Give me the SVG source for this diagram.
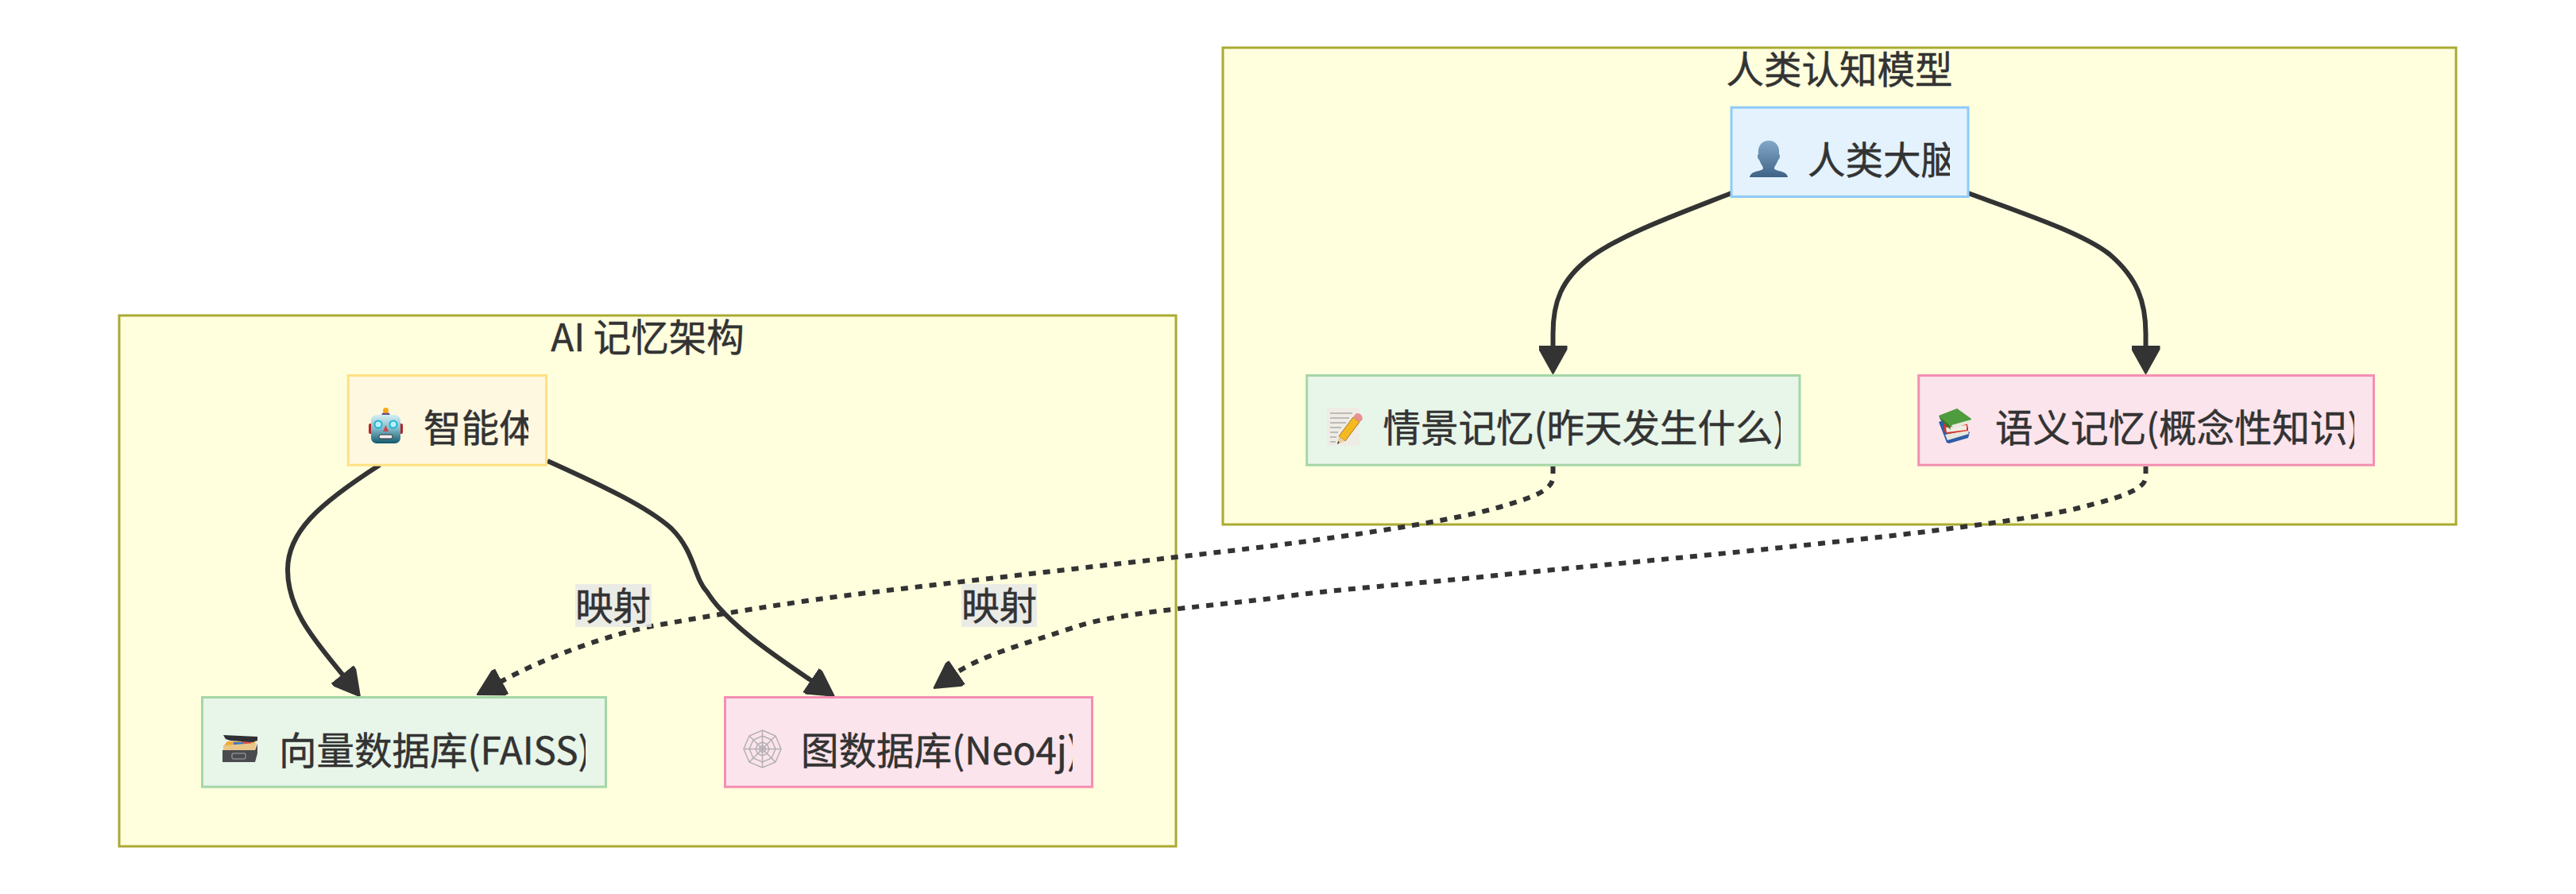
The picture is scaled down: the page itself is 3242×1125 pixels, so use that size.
<svg xmlns="http://www.w3.org/2000/svg" width="3242" height="1125" viewBox="0 0 3242 1125">
<style>
text{font-family:"Noto Sans CJK SC","Noto Sans",sans-serif;font-size:47.500px;fill:#333;stroke:#333;stroke-width:.5}
.cluster{fill:#ffffde;stroke:#aaaa33;stroke-width:3}
.title{text-anchor:middle}
.edge{fill:none;stroke:#333;stroke-width:6}
.dot{stroke-dasharray:9 9}
.blue{fill:#e3f2fd;stroke:#90caf9;stroke-width:3}
.green{fill:#e8f5e9;stroke:#a5d6a7;stroke-width:3}
.pink{fill:#fce4ec;stroke:#f48fb1;stroke-width:3}
.amber{fill:#fff8e1;stroke:#ffe082;stroke-width:3}
.lbl{fill:#e8e8e8;fill-opacity:.85}
</style>
<defs>
<marker id="arrow" viewBox="0 0 10 10" refX="0.5" refY="5" markerWidth="36" markerHeight="36" markerUnits="userSpaceOnUse" orient="auto">
<path d="M0,0 L1.400,0 L10,4.800 L10,5.200 L1.400,10 L0,10 z" fill="#333"/>
</marker>
<linearGradient id="gPerson" x1="0" y1="0" x2="0" y2="1"><stop offset="0" stop-color="#82a8c8"/><stop offset="1" stop-color="#3f6386"/></linearGradient>
<linearGradient id="gRobot" x1="0" y1="0" x2="0" y2="1"><stop offset="0" stop-color="#d4f0f5"/><stop offset=".5" stop-color="#7fb8c6"/><stop offset="1" stop-color="#13586e"/></linearGradient>
<clipPath id="c1"><rect x="2190" y="160" width="264" height="80"/></clipPath>
<clipPath id="c2"><rect x="1660" y="495" width="581" height="80"/></clipPath>
<clipPath id="c3"><rect x="2430" y="495" width="533" height="80"/></clipPath>
<clipPath id="c4"><rect x="450" y="495" width="215" height="80"/></clipPath>
<clipPath id="c5"><rect x="270" y="900" width="467" height="80"/></clipPath>
<clipPath id="c6"><rect x="925" y="900" width="425" height="80"/></clipPath>
</defs>

<g id="clusters">
<g id="cluster-human">
<rect class="cluster" x="1539" y="60" width="1552" height="600"/>
<text class="title" x="2315" y="105">人类认知模型</text>
</g>
<g id="cluster-ai">
<rect class="cluster" x="150" y="397" width="1330" height="668"/>
<text class="title" x="815" y="442">AI 记忆架构</text>
</g>
</g>

<g id="connectors">
<path class="edge" marker-end="url(#arrow)" d="M2179,243 C2110,270 2040,295 2000,325 C1965,352 1954.5,380 1954.5,420 L1954.5,436.500"/>
<path class="edge" marker-end="url(#arrow)" d="M2477,243 C2550,270 2620,293 2655,320 C2690,350 2700.5,380 2700.5,420 L2700.5,436.500"/>
<path class="edge" marker-end="url(#arrow)" d="M478,585 C400,635 362,670 362,717 C362,770 400,810 432,850"/>
<path class="edge" marker-end="url(#arrow)" d="M689,580 C760,612 815,638 845,665 C875,695 873,727 890,745 C915,785 975,825 1022,857"/>
<path class="edge dot" marker-end="url(#arrow)" d="M1954.5,587 L1954.5,600 C1954.5,618 1925,627 1888,638 C1850,649 1770,665 1600,687 C1450,705 1250,727 1100,745 C1000,757 910,772 820,788 C770,798 690,825 630,858"/>
<path class="edge dot" marker-end="url(#arrow)" d="M2700.5,587 L2700.5,600 C2700.5,618 2660,628 2613,640 C2580,648 2500,660 2399,672 C2200,695 2000,712 1884,724 C1780,735 1680,741 1600,753 C1500,765 1400,772 1350,790 C1290,810 1235,825 1203,847"/>
</g>

<g id="edge-labels">
<g id="label-1"><rect class="lbl" x="724" y="735" width="96" height="54"/><text x="724" y="780">映射</text></g>
<g id="label-2"><rect class="lbl" x="1210" y="735" width="95" height="54"/><text x="1210" y="780">映射</text></g>
</g>

<g id="node-brain">
<rect class="blue" x="2179" y="135.200" width="298" height="112.300"/>
<g>
<path fill="url(#gPerson)" d="M2226,177 C2236,177 2240,185 2239,194 C2241,195 2240,200 2238,201 C2236,207 2233,209 2233,212 C2233,215 2245,215 2248,219 C2249,220 2250,222 2250,223 L2202,223 C2202,222 2203,220 2204,219 C2207,215 2219,215 2219,212 C2219,209 2216,207 2214,201 C2212,200 2211,195 2213,194 C2212,185 2216,177 2226,177 z"/>
</g>
<text x="2275" y="219" clip-path="url(#c1)">人类大脑</text>
</g>

<g id="node-episodic">
<rect class="green" x="1644.700" y="472.500" width="620.300" height="112.700"/>
<g>
<rect x="1670" y="513" width="41" height="48" fill="#efece6"/>
<path fill="none" stroke="#8a8a8a" stroke-width="1" d="M1674,520 h28 M1674,526 h24 M1674,532 h20 M1674,538 h14 M1674,544 h10 M1674,550 h8 M1674,556 h7"/>
<path fill="#f5b922" stroke="#a8761a" stroke-width="1" d="M1685,549 L1703,525 L1711,531 L1693,555 z"/>
<path fill="#e88f92" d="M1703,525 L1706,521 C1708,519 1711,520 1713,522 C1715,524 1715,527 1714,529 L1711,531 z"/>
<path fill="#e9cf9c" d="M1685,549 L1693,555 L1683,559 z"/>
<path fill="#333" d="M1684,555 L1686,557 L1683,559 z"/>
</g>
<text x="1740.500" y="556" clip-path="url(#c2)">情景记忆(昨天发生什么)</text>
</g>

<g id="node-semantic">
<rect class="pink" x="2414.700" y="472.500" width="572.800" height="112.700"/>
<g>
<path fill="#2f5ea8" d="M2440,531 L2447,528 L2479,544 L2477,551 L2453,558 L2450,557 z"/>
<path fill="#e9e7dd" d="M2448,547 L2476,541 L2478,546 L2451,554 z"/>
<path fill="#d9352a" d="M2446,529 L2452,525 L2475,529 L2477,539 L2477,542 L2451,546 L2447,543 z"/>
<path fill="#efece2" d="M2449,538 L2475,535 L2475,541 L2450,544 z"/>
<path fill="#4f9c3e" d="M2440,523 L2463,514 L2481,527 L2481,531 L2458,538 L2454,536 z"/>
<path fill="#2f7a2a" d="M2440,523 L2454,536 L2455,541 L2442,528 z"/>
<path fill="#eae8de" d="M2456,535 L2481,528 L2481,532 L2458,539 z"/>
</g>
<text x="2511" y="556" clip-path="url(#c3)">语义记忆(概念性知识)</text>
</g>

<g id="node-agent">
<rect class="amber" x="438.200" y="472.500" width="249.300" height="112.700"/>
<g>
<rect x="464" y="533" width="6" height="13" rx="2" fill="#b3252a"/>
<rect x="501" y="533" width="6" height="13" rx="2" fill="#b3252a"/>
<path d="M480,523 C480,517 491,517 491,523 z" fill="#6b4d96"/>
<circle cx="485.500" cy="516.500" r="3.500" fill="#f7a713"/>
<rect x="467" y="522" width="37" height="36" rx="7" fill="url(#gRobot)"/>
<circle cx="476" cy="534" r="4.500" fill="#bdf0fa" stroke="#1fb3d8" stroke-width="2"/>
<circle cx="495" cy="534" r="4.500" fill="#bdf0fa" stroke="#1fb3d8" stroke-width="2"/>
<path d="M485.500,535 L489,543 L482,543 z" fill="#c9474a"/>
<rect x="477" y="547" width="17" height="5" rx="2" fill="#f0f0f0" stroke="#333" stroke-width="1"/>
</g>
<text x="533" y="556" clip-path="url(#c4)">智能体</text>
</g>

<g id="node-vector">
<rect class="green" x="254.500" y="877.500" width="508" height="112.700"/>
<g>
<path fill="#f2a93b" d="M282,938 L286,933 L320,933 L322,938 z"/>
<path fill="#d9534a" d="M304,932 L316,932 L316,937 L304,937 z"/>
<path fill="#3a79c4" d="M294,934 L306,934 L306,938 L294,938 z"/>
<path fill="#e9c689" d="M281,938 L323,935 L320,945 L281,945 z"/>
<path fill="#2f3033" d="M281,925 L324,927 L324,932 L318,934 L290,932 L284,930 z"/>
<path fill="#4a4b4f" d="M280,944 L321,944 L324,936 L324,948 L321,959 L280,959 z"/>
<rect x="292" y="948" width="17" height="7" rx="2" fill="none" stroke="#8b8b8b" stroke-width="1.500"/>
</g>
<text x="351" y="962" clip-path="url(#c5)">向量数据库(FAISS)</text>
</g>

<g id="node-graph">
<rect class="pink" x="912.500" y="877.500" width="462" height="112.700"/>
<g fill="none" stroke="#b3b0b3" stroke-width="1.500">
<path d="M936,942.500 H983 M959.500,919 V966 M943,926 L976,959 M976,926 L943,959"/>
<path d="M959.500,919 L976,926 L983,942.500 L976,959 L959.500,966 L943,959 L936,942.500 L943,926 z"/>
<path d="M959.500,926 L971,931 L976,942.500 L971,954 L959.500,959 L948,954 L943,942.500 L948,931 z"/>
<path d="M959.500,934 L965.500,936.500 L968,942.500 L965.500,948.500 L959.500,951 L953.500,948.500 L951,942.500 L953.500,936.500 z"/>
<circle cx="959.500" cy="942.500" r="4"/>
</g>
<text x="1008" y="962" clip-path="url(#c6)">图数据库(Neo4j)</text>
</g>
</svg>
